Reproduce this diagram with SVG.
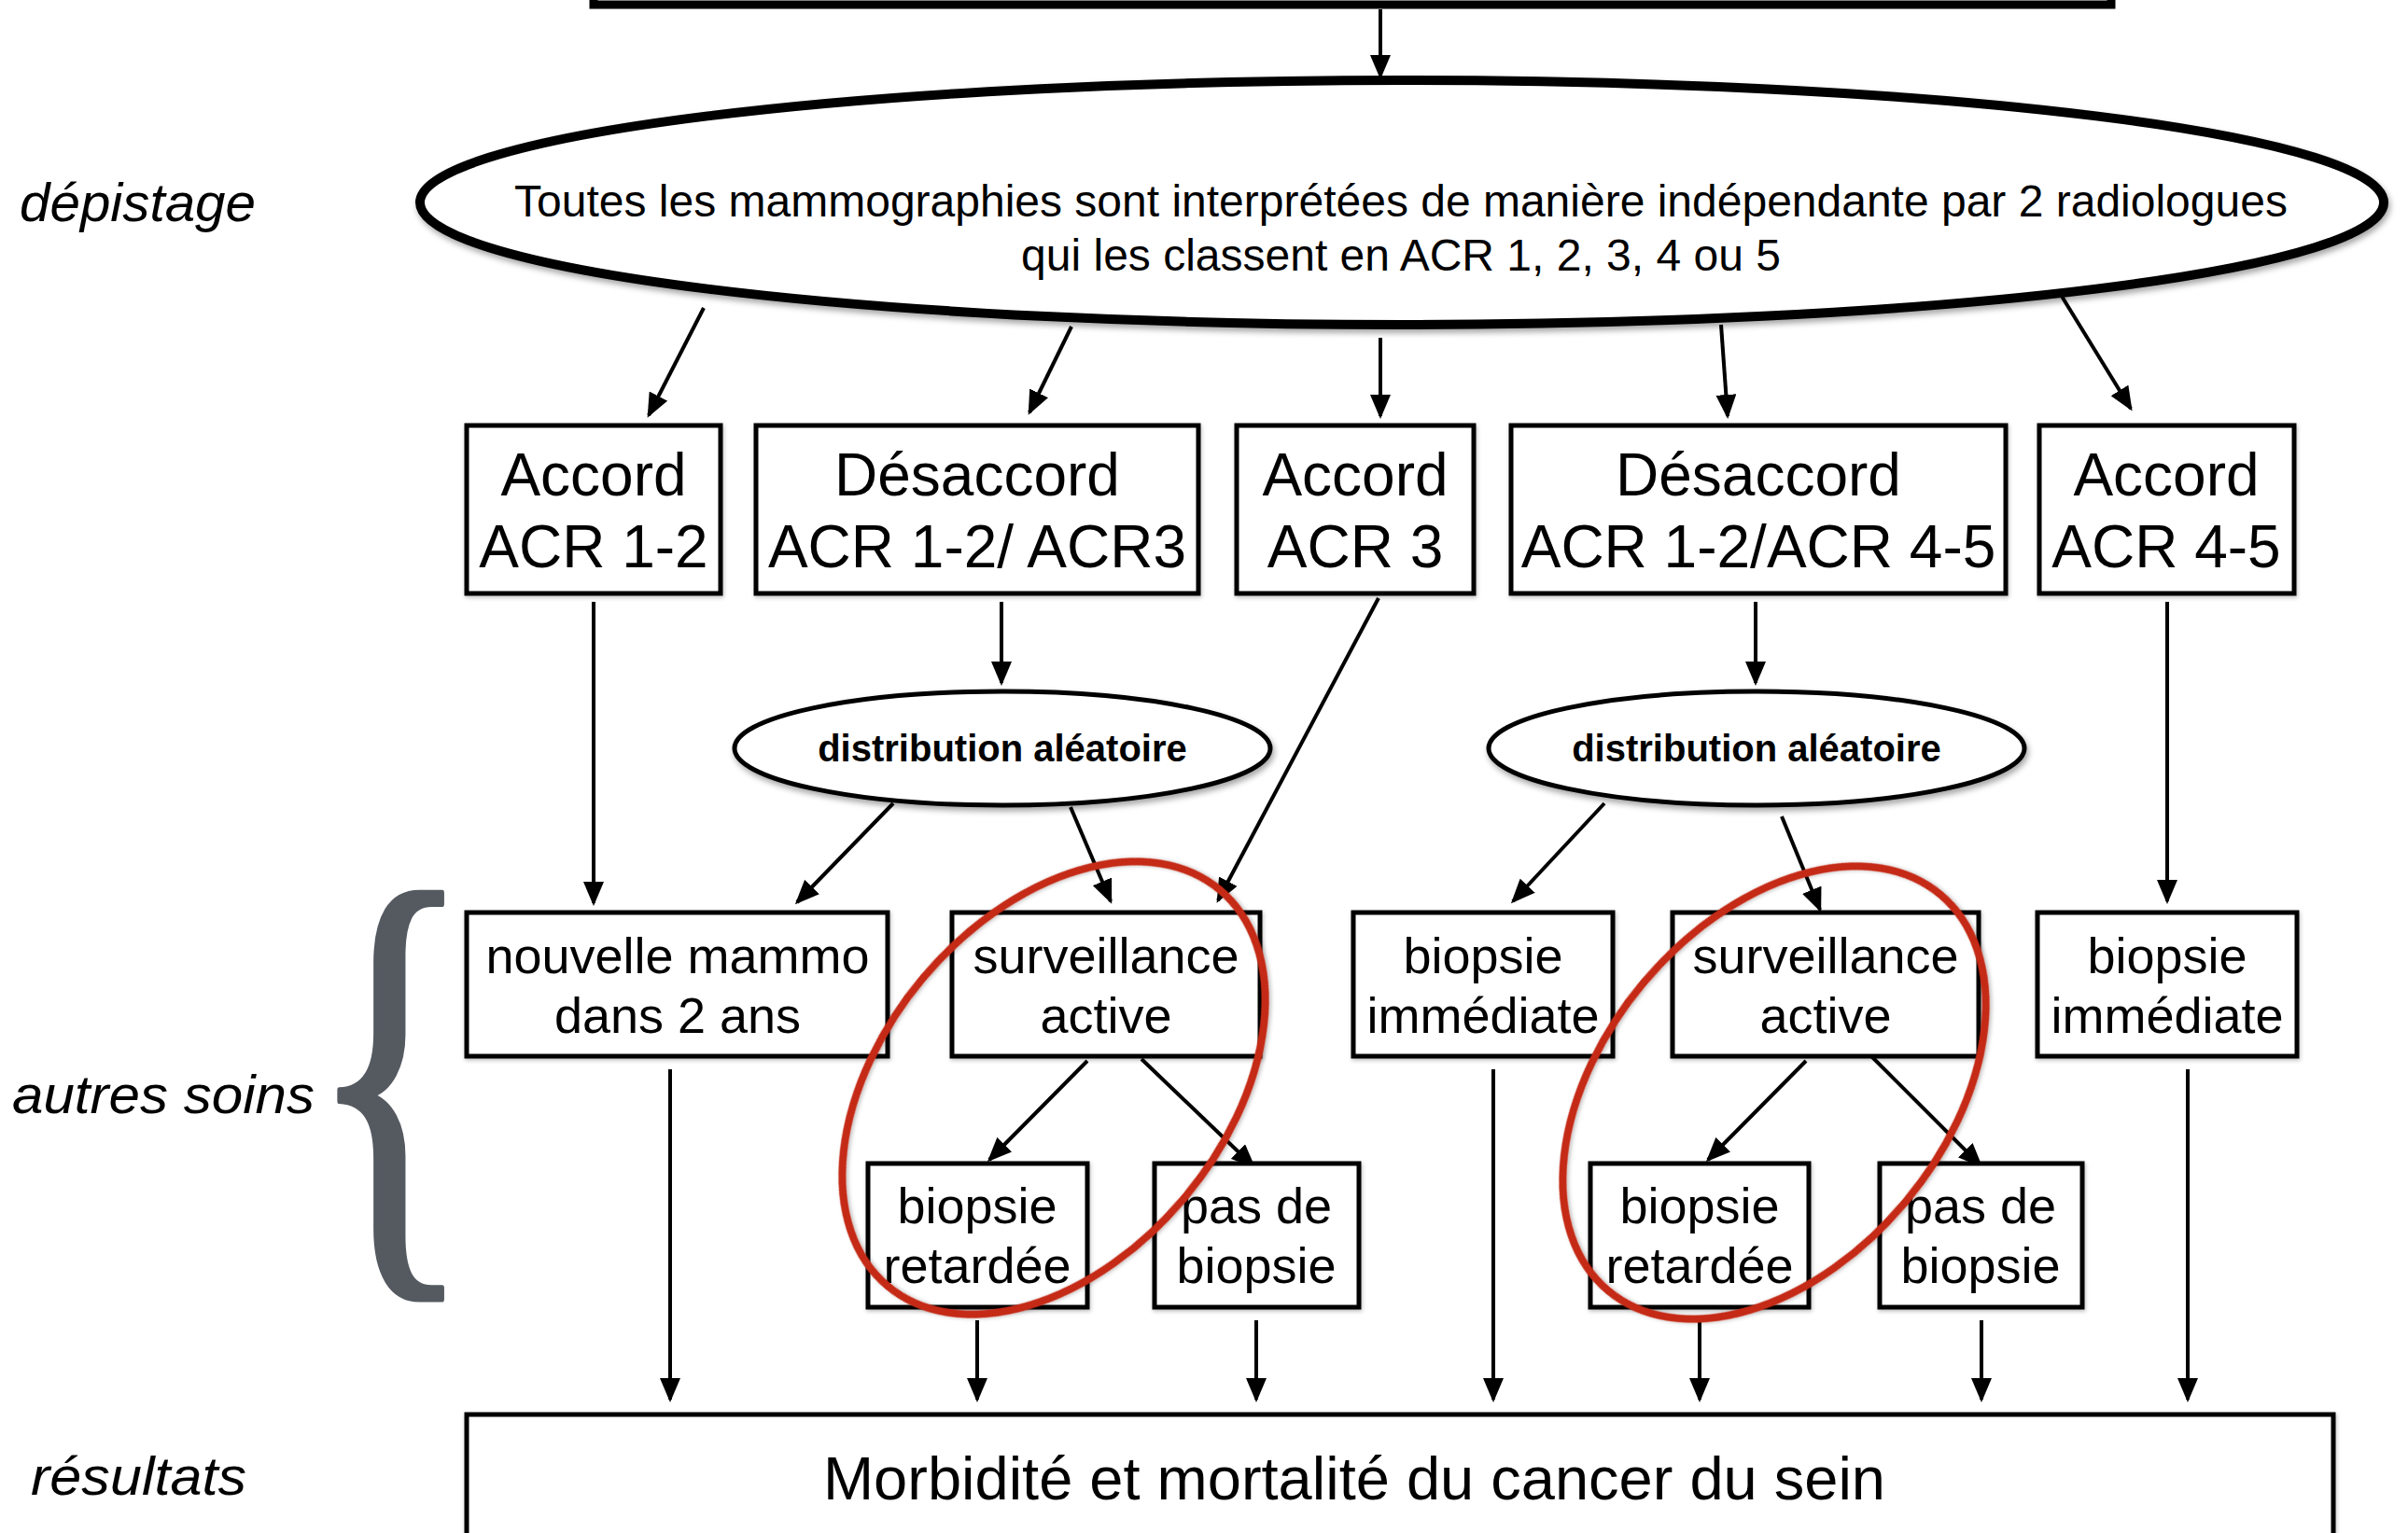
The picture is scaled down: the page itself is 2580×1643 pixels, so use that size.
<svg xmlns="http://www.w3.org/2000/svg" width="2580" height="1643" viewBox="0 0 2580 1643">
<defs>
<style>
.box{fill:#fff;stroke:#000;stroke-width:5}
.ell{fill:#fff;stroke:#000}
.red{fill:none;stroke:#c42a17;stroke-width:8}
.t{font-family:'Liberation Sans',Arial,sans-serif;fill:#000;text-anchor:middle}
.r1{font-size:64px}
.r2{font-size:54px}
.big{font-size:48px}
.bd{font-size:40px;font-weight:bold}
.lab{font-family:'Liberation Sans',Arial,sans-serif;font-style:italic;font-size:58px;fill:#000}
.c line{stroke:#000;stroke-width:4;marker-end:url(#ah)}
</style>
<marker id="ah" markerUnits="userSpaceOnUse" markerWidth="26" markerHeight="22" refX="23" refY="11" orient="auto">
<path d="M0,0 L26,11 L0,22 z" fill="#000"/>
</marker>
<filter id="sh" x="-10%" y="-10%" width="120%" height="130%">
<feDropShadow dx="2" dy="4" stdDeviation="3" flood-color="#000" flood-opacity="0.35"/>
</filter>
<filter id="shs" x="-5%" y="-5%" width="110%" height="115%">
<feDropShadow dx="1" dy="2" stdDeviation="2" flood-color="#000" flood-opacity="0.25"/>
</filter>
</defs>
<rect width="2580" height="1643" fill="#fff"/>

<!-- side labels -->
<g id="labels">
<text class="lab" x="21" y="237" textLength="253" lengthAdjust="spacingAndGlyphs">dépistage</text>
<text class="lab" x="13" y="1193" textLength="324" lengthAdjust="spacingAndGlyphs">autres soins</text>
<text class="lab" x="33" y="1602" textLength="231" lengthAdjust="spacingAndGlyphs">résultats</text>
<text id="brace" x="0" y="0" transform="translate(330,1322) scale(0.73,1.04)" font-family="'Liberation Serif',serif" font-size="506" fill="#555a61" stroke="#555a61" stroke-width="6" stroke-linejoin="round">{</text>
</g>

<!-- top box (cut off) -->
<g id="top">
<rect x="636" y="-100" width="1626" height="105" fill="#fff" stroke="#000" stroke-width="9"/>
</g>

<!-- connectors -->
<g id="connectors" class="c">
<line x1="1479" y1="10" x2="1479" y2="82"/>
<line x1="754" y1="330" x2="695" y2="445"/>
<line x1="1148" y1="350" x2="1103" y2="442"/>
<line x1="1479" y1="362" x2="1479" y2="446"/>
<line x1="1844" y1="348" x2="1851" y2="446"/>
<line x1="2205" y1="311" x2="2283" y2="438"/>
<line x1="636" y1="645" x2="636" y2="968"/>
<line x1="1073" y1="645" x2="1073" y2="732"/>
<line x1="1477" y1="641" x2="1305" y2="965"/>
<line x1="1881" y1="645" x2="1881" y2="732"/>
<line x1="2322" y1="645" x2="2322" y2="966"/>
<line x1="957" y1="861" x2="854" y2="967"/>
<line x1="1147" y1="865" x2="1190" y2="966"/>
<line x1="1719" y1="861" x2="1621" y2="966"/>
<line x1="1909" y1="875" x2="1950" y2="975"/>
<line x1="1165" y1="1137" x2="1060" y2="1243"/>
<line x1="1223" y1="1135" x2="1343" y2="1250"/>
<line x1="1935" y1="1137" x2="1830" y2="1243"/>
<line x1="2003" y1="1130" x2="2122" y2="1249"/>
<line x1="718" y1="1146" x2="718" y2="1500"/>
<line x1="1047" y1="1415" x2="1047" y2="1500"/>
<line x1="1346" y1="1415" x2="1346" y2="1500"/>
<line x1="1600" y1="1146" x2="1600" y2="1500"/>
<line x1="1821" y1="1415" x2="1821" y2="1500"/>
<line x1="2123" y1="1415" x2="2123" y2="1500"/>
<line x1="2344" y1="1146" x2="2344" y2="1500"/>
</g>

<!-- screening ellipse -->
<g id="depistage">
<ellipse class="ell" cx="1502" cy="217" rx="1052" ry="131" stroke-width="10" filter="url(#sh)"/>
<text class="t big" x="1501" y="232">Toutes les mammographies sont interprétées de manière indépendante par 2 radiologues</text>
<text class="t big" x="1501" y="290">qui les classent en ACR 1, 2, 3, 4 ou 5</text>
</g>

<!-- row 1 -->
<g id="accord12">
<rect class="box" x="500" y="456" width="272" height="180" filter="url(#shs)"/>
<text class="t r1" x="636" y="531">Accord</text>
<text class="t r1" x="636" y="608">ACR 1-2</text>
</g>
<g id="desaccord123">
<rect class="box" x="810" y="456" width="474" height="180" filter="url(#shs)"/>
<text class="t r1" x="1047" y="531">Désaccord</text>
<text class="t r1" x="1047" y="608">ACR 1-2/ ACR3</text>
</g>
<g id="accord3">
<rect class="box" x="1325" y="456" width="254" height="180" filter="url(#shs)"/>
<text class="t r1" x="1452" y="531">Accord</text>
<text class="t r1" x="1452" y="608">ACR 3</text>
</g>
<g id="desaccord1245">
<rect class="box" x="1619" y="456" width="530" height="180" filter="url(#shs)"/>
<text class="t r1" x="1884" y="531">Désaccord</text>
<text class="t r1" x="1884" y="608">ACR 1-2/ACR 4-5</text>
</g>
<g id="accord45">
<rect class="box" x="2185" y="456" width="273" height="180" filter="url(#shs)"/>
<text class="t r1" x="2321" y="531">Accord</text>
<text class="t r1" x="2321" y="608">ACR 4-5</text>
</g>

<!-- random distribution -->
<g id="dist1">
<ellipse class="ell" cx="1074" cy="802" rx="287" ry="61" stroke-width="5" filter="url(#sh)"/>
<text class="t bd" x="1074" y="816">distribution aléatoire</text>
</g>
<g id="dist2">
<ellipse class="ell" cx="1882" cy="802" rx="287" ry="61" stroke-width="5" filter="url(#sh)"/>
<text class="t bd" x="1882" y="816">distribution aléatoire</text>
</g>

<!-- row 2 -->
<g id="nouvelle">
<rect class="box" x="500" y="978" width="451" height="154" filter="url(#shs)"/>
<text class="t r2" x="726" y="1043">nouvelle mammo</text>
<text class="t r2" x="726" y="1107">dans 2 ans</text>
</g>
<g id="surv1">
<rect class="box" x="1020" y="978" width="330" height="154" filter="url(#shs)"/>
<text class="t r2" x="1185" y="1043">surveillance</text>
<text class="t r2" x="1185" y="1107">active</text>
</g>
<g id="biopimm1">
<rect class="box" x="1450" y="978" width="278" height="154" filter="url(#shs)"/>
<text class="t r2" x="1589" y="1043">biopsie</text>
<text class="t r2" x="1589" y="1107">immédiate</text>
</g>
<g id="surv2">
<rect class="box" x="1792" y="978" width="328" height="154" filter="url(#shs)"/>
<text class="t r2" x="1956" y="1043">surveillance</text>
<text class="t r2" x="1956" y="1107">active</text>
</g>
<g id="biopimm2">
<rect class="box" x="2183" y="978" width="278" height="154" filter="url(#shs)"/>
<text class="t r2" x="2322" y="1043">biopsie</text>
<text class="t r2" x="2322" y="1107">immédiate</text>
</g>

<!-- row 3 -->
<g id="bioret1">
<rect class="box" x="930" y="1247" width="235" height="154" filter="url(#shs)"/>
<text class="t r2" x="1047" y="1311">biopsie</text>
<text class="t r2" x="1047" y="1375">retardée</text>
</g>
<g id="pasde1">
<rect class="box" x="1237" y="1247" width="219" height="154" filter="url(#shs)"/>
<text class="t r2" x="1346" y="1311">pas de</text>
<text class="t r2" x="1346" y="1375">biopsie</text>
</g>
<g id="bioret2">
<rect class="box" x="1704" y="1247" width="234" height="154" filter="url(#shs)"/>
<text class="t r2" x="1821" y="1311">biopsie</text>
<text class="t r2" x="1821" y="1375">retardée</text>
</g>
<g id="pasde2">
<rect class="box" x="2014" y="1247" width="217" height="154" filter="url(#shs)"/>
<text class="t r2" x="2122" y="1311">pas de</text>
<text class="t r2" x="2122" y="1375">biopsie</text>
</g>

<!-- outcome -->
<g id="resultats">
<rect class="box" x="500" y="1516" width="2000" height="300" filter="url(#shs)"/>
<text class="t" x="1451" y="1607" font-size="65">Morbidité et mortalité du cancer du sein</text>
</g>

<!-- red highlight ellipses -->
<g id="highlights">
<ellipse class="red" cx="1129" cy="1166" rx="277" ry="183" transform="rotate(-50 1129 1166)" filter="url(#shs)"/>
<ellipse class="red" cx="1901" cy="1171" rx="277" ry="183" transform="rotate(-50 1901 1171)" filter="url(#shs)"/>
</g>
</svg>
